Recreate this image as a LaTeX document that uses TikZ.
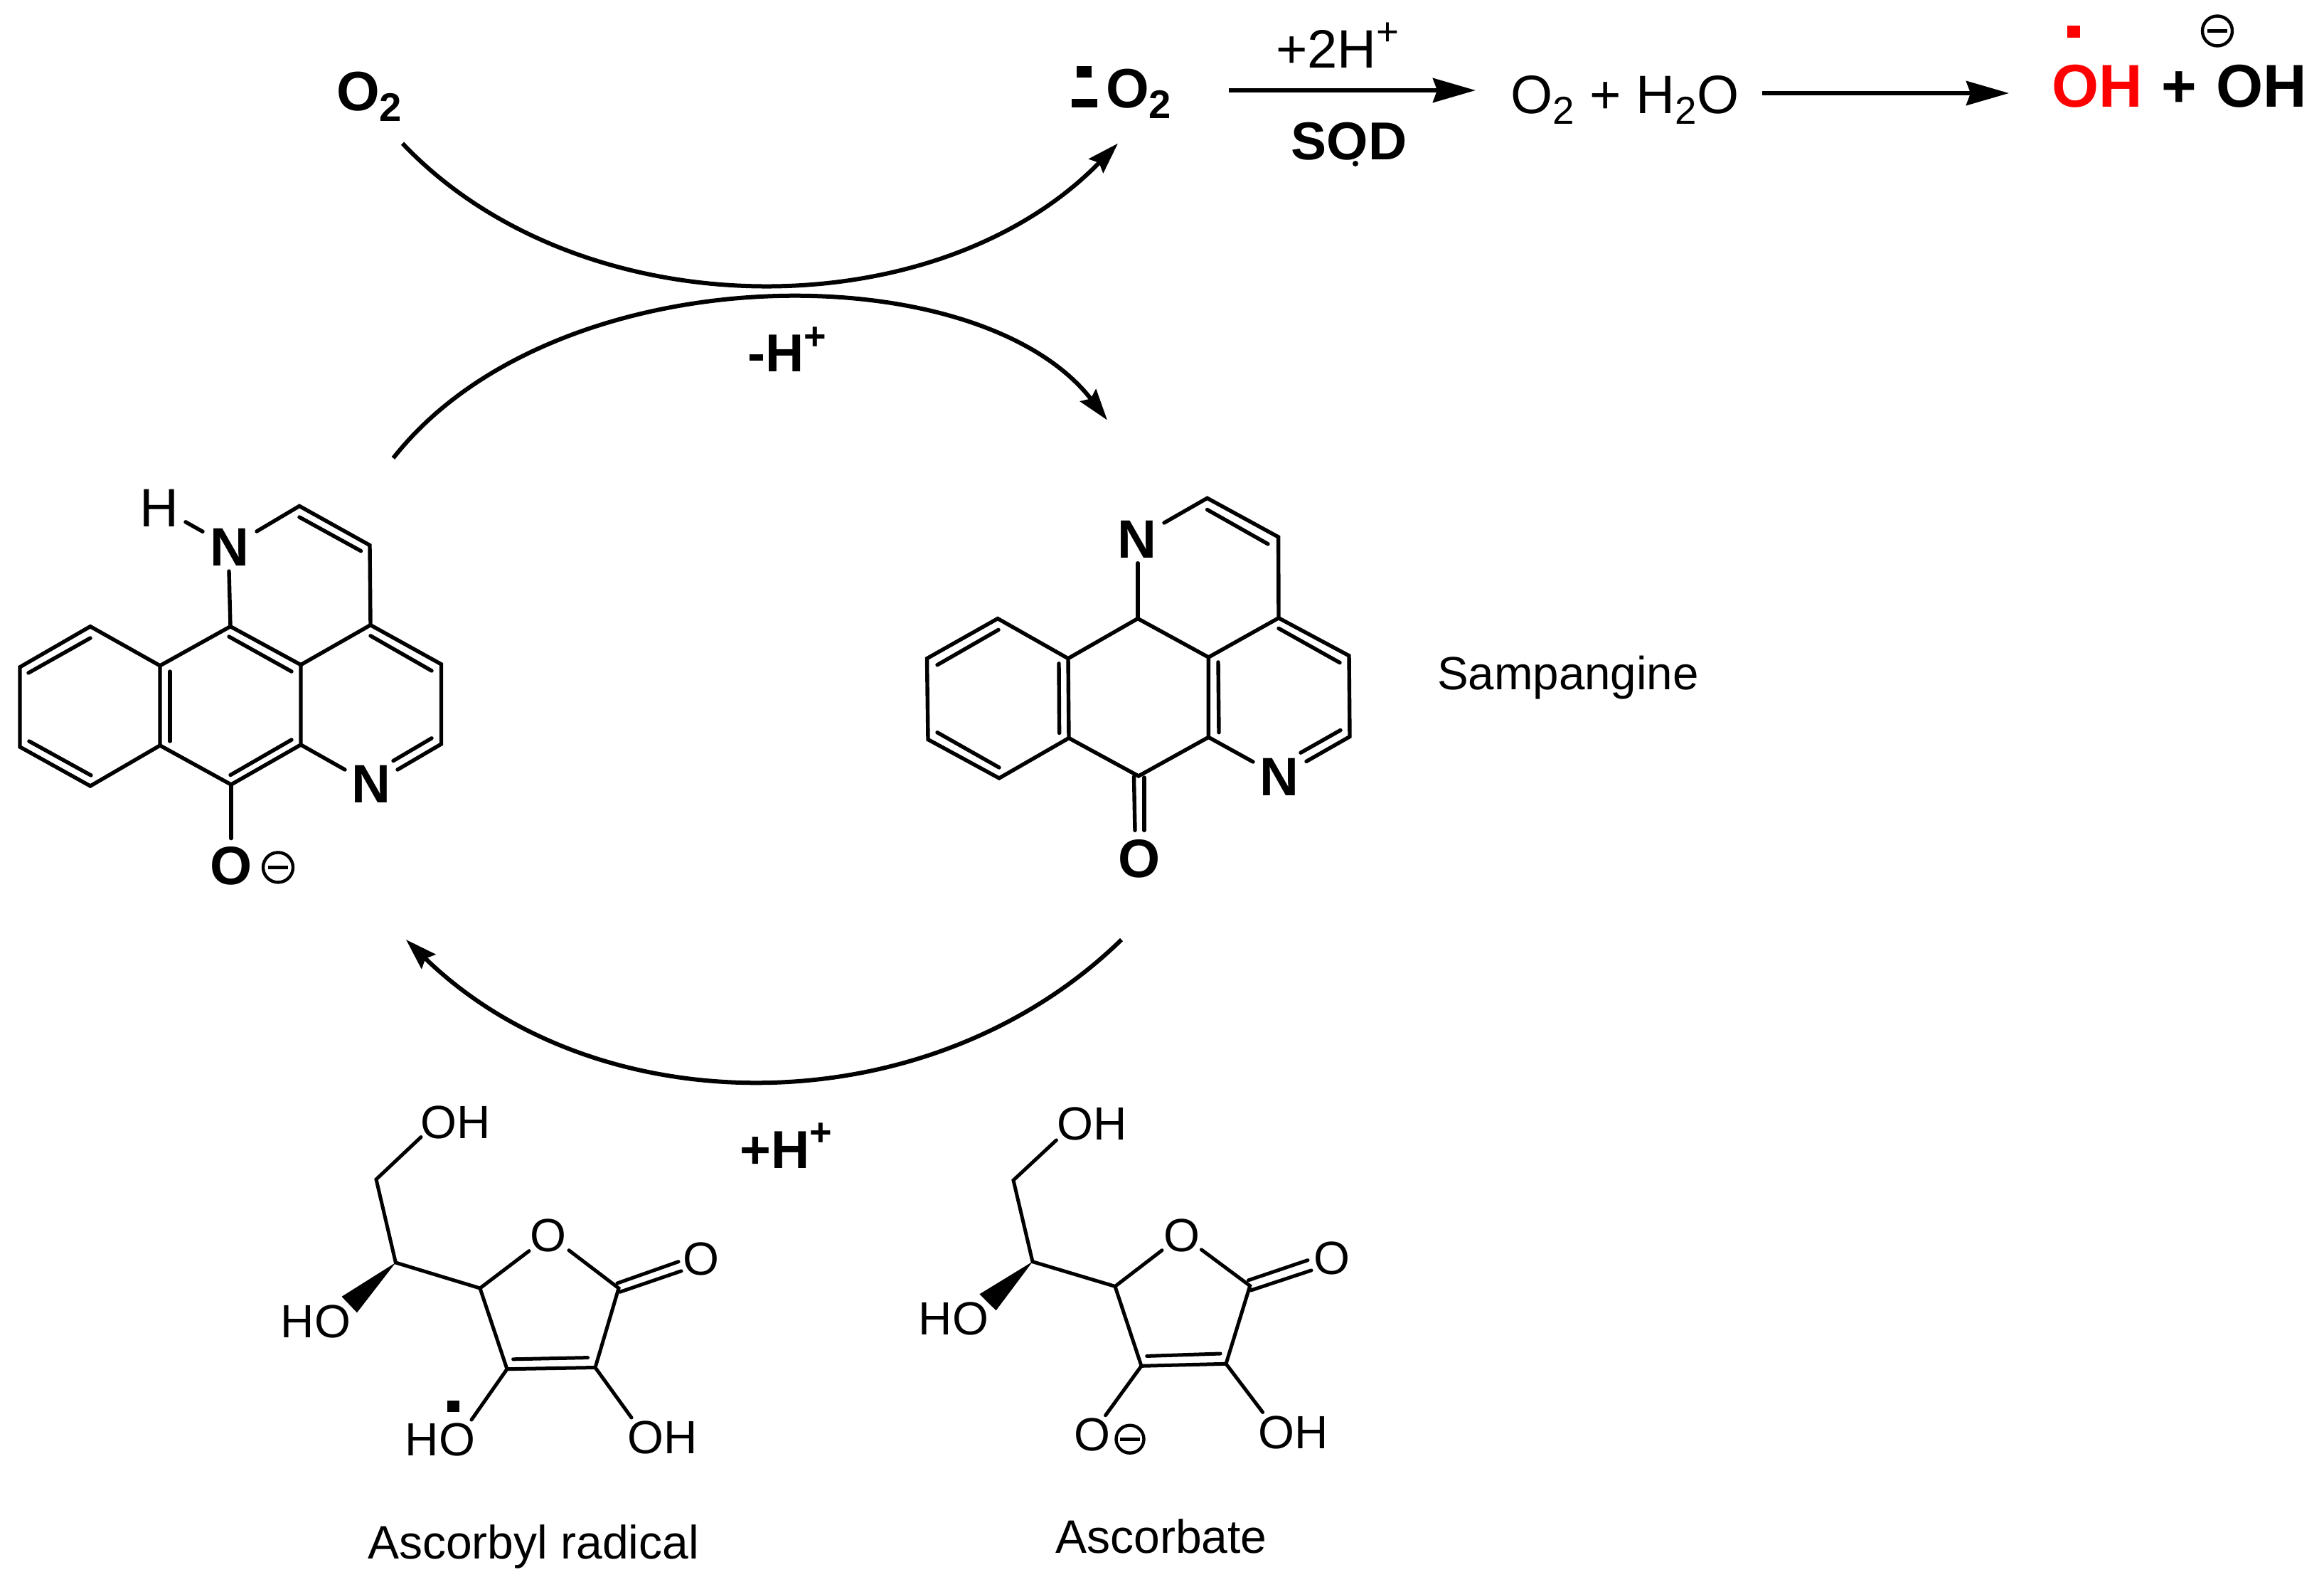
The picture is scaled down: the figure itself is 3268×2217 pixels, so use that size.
\documentclass[tikz,border=0pt]{standalone}
\usepackage{fontspec}
\setmainfont{Liberation Sans}
\usetikzlibrary{arrows.meta,calc}
\newcommand{\lsub}[1]{\raisebox{-.2em}{\scalebox{.72}{#1}}}
\newcommand{\lsup}[1]{\raisebox{.42em}{\scalebox{.72}{#1}}}
\tikzset{
  x=0.5pt,y=-0.5pt,
  bond/.style={line width=2.7pt,line cap=round,line join=miter,miter limit=4},
  thinbond/.style={line width=2.5pt,line cap=round,line join=miter,miter limit=4},
  curved/.style={line width=3pt,-{Stealth[length=22pt,width=14pt,inset=3pt]}},
  rxn/.style={line width=3pt,-{Stealth[length=30pt,width=17pt,inset=3pt]}},
  txt/.style={anchor=base,inner sep=0pt,outer sep=0pt},
  rgsm/.style={txt,font=\fontsize{32.75}{39}\selectfont},
  rgcap/.style={txt,font=\fontsize{33}{39}\selectfont},
  rgmd/.style={txt,font=\fontsize{38}{45}\selectfont},
  bfmd/.style={txt,font=\fontsize{37.5}{45}\selectfont\bfseries},
  bflg/.style={txt,font=\fontsize{39}{47}\selectfont\bfseries},
  rglab/.style={txt,font=\fontsize{38}{48}\selectfont},
  bflab/.style={txt,font=\fontsize{38}{48}\selectfont\bfseries},
  bfxl/.style={txt,font=\fontsize{42.5}{51}\selectfont\bfseries},
  minusc/.style={circle,draw,line width=2.2pt,inner sep=0pt,minimum size=#1,
    path picture={\fill ($(path picture bounding box.center)+(-14,-2.6)$) rectangle +(28,5.2);}},
  wedge/.style={fill=black,draw=none},
}
\begin{document}
\begin{tikzpicture}
\useasboundingbox (0,0) rectangle (3268,2217);
% ---------- top line
\node[bflg] (o2a) at (519,155) {O\lsub{2}};
\node[bflg] (o2b) at (1601,151) {O\lsub{2}};
\fill (1514,93) rectangle (1535,109);
\fill (1507,139) rectangle (1543,151);
\node[rgmd] (h2p) at (1881,95) {+2H\lsup{+}};
\node[bfmd] (sod) at (1897,224) {SOD};
\fill (1906,230) circle (4);
\node[rgmd] (prod) at (2285,159) {O\lsub{2} + H\lsub{2}O};
\node[bfxl,text=red] (ohr) at (2949.5,150) {OH};
\fill[red] (2907,36) rectangle (2925,53);
\node[bfxl] (plus) at (3064,150) {+};
\node[bfxl] (ohb) at (3180.5,150) {OH};
\node[minusc=21pt] (moh) at (3118,43.5) {};
\coordinate (r1s) at (1728,127); \coordinate (r1e) at (2075,127);
\coordinate (r2s) at (2478,131); \coordinate (r2e) at (2825,131);
\draw[rxn] (r1s) -- (r1e);
\draw[rxn] (r2s) -- (r2e);
% ---------- curved arrows
\coordinate (c1s) at (566,201.6); \coordinate (c1e) at (1572,201.6);
\coordinate (c2s) at (553,644); \coordinate (c2e) at (1557,590.6);
\coordinate (c3s) at (1577,1321); \coordinate (c3e) at (571,1321);
\draw[curved] (c1s) .. controls (816,465) and (1316,465) .. (c1e);
\draw[curved] (c2s) .. controls (780,355) and (1375,355) .. (c2e);
\draw[curved] (c3s) .. controls (1306,1585) and (842,1585) .. (c3e);
\node[bfmd] (mh) at (1107,522.6) {-H\lsup{+}};
\node[bfmd] (ph) at (1105,1642) {+H\lsup{+}};
% ---------- left molecule
\coordinate (la1) at (28,937.8); \coordinate (la2) at (127,880.7); \coordinate (la3) at (225,935.8);
\coordinate (la4) at (225,1048); \coordinate (la5) at (127,1105); \coordinate (la6) at (28,1050);
\coordinate (lb1) at (324,880.7); \coordinate (lb2) at (423,934.6); \coordinate (lb3) at (423,1047);
\coordinate (lb4) at (325,1103); \coordinate (lc2) at (421,711.4); \coordinate (lc3) at (520,766.5);
\coordinate (lc4) at (521,878.7); \coordinate (ld1) at (620.5,933.8); \coordinate (ld2) at (620.5,1046);
\coordinate (lnr) at (361,747); \coordinate (lnd) at (322,803); \coordinate (lnh) at (285,747.3);
\coordinate (lhn) at (261,733.8); \coordinate (lob) at (325,1178.6);
\coordinate (lnl) at (485,1082); \coordinate (lnq) at (559,1082);
\node[bflab] (ln1) at (322.5,795) {N};
\node[bflab] (ln2) at (522,1128.8) {N};
\node[bflab] (lo) at (325.5,1243) {O};
\node[rglab] (lh) at (224,740) {H};
\node[minusc=21pt] (lm) at (391,1219.4) {};
\draw[bond] (la1) -- (la2) -- (la3) -- (la4) -- (la5) -- (la6) -- cycle;
\draw[bond] (la3) -- (lb1) -- (lb2) -- (lb3) -- (lb4) -- (la4);
\draw[bond] (lb1) -- (lnd);
\draw[bond] (lnr) -- (lc2) -- (lc3) -- (lc4) -- (lb2);
\draw[bond] (lc4) -- (ld1) -- (ld2) -- (lnq);
\draw[bond] (lb3) -- (lnl);
\draw[bond] (lb4) -- (lob);
\draw[bond] (lhn) -- (lnh);
\draw[bond] (40,946) -- (127,897);
\draw[bond] (41,1042) -- (128,1090);
\draw[bond] (239,944) -- (239,1042);
\draw[bond] (322,895) -- (410,944);
\draw[bond] (324,1089.6) -- (410,1040);
\draw[bond] (421,727) -- (507.6,774.6);
\draw[bond] (521,893.8) -- (607,943);
\draw[bond] (607,1037.8) -- (553,1069.6);
% ---------- right molecule
\coordinate (ra1) at (1303.5,925.7); \coordinate (ra2) at (1403,869.6); \coordinate (ra3) at (1502,925.7);
\coordinate (ra4) at (1503,1037.6); \coordinate (ra5) at (1405,1094); \coordinate (ra6) at (1305,1039.6);
\coordinate (rb1) at (1600,869.6); \coordinate (rb2) at (1699.4,924); \coordinate (rb3) at (1699.4,1036.4);
\coordinate (rb4) at (1601,1091); \coordinate (rc2) at (1697.6,700.3); \coordinate (rc3) at (1797.6,754.9);
\coordinate (rc4) at (1798,868.8); \coordinate (rd1) at (1897,921.8); \coordinate (rd2) at (1898,1035.6);
\coordinate (rnr) at (1637,735); \coordinate (rnd) at (1600,791.7);
\coordinate (rnl) at (1762,1071); \coordinate (rnq) at (1837,1070.4);
\node[bflab] (rn1) at (1599,784.6) {N};
\node[bflab] (rn2) at (1799,1118.7) {N};
\node[bflab] (ro) at (1602,1233) {O};
\node[rgsm,anchor=base west] (samp) at (2021,969) {Sampangine};
\draw[bond] (ra1) -- (ra2) -- (ra3) -- (ra4) -- (ra5) -- (ra6) -- cycle;
\draw[bond] (ra3) -- (rb1) -- (rb2) -- (rb3) -- (rb4) -- (ra4);
\draw[bond] (rb1) -- (rnd);
\draw[bond] (rnr) -- (rc2) -- (rc3) -- (rc4) -- (rb2);
\draw[bond] (rc4) -- (rd1) -- (rd2) -- (rnq);
\draw[bond] (rb3) -- (rnl);
\draw[bond] (1318,934.8) -- (1404,885.4);
\draw[bond] (1318,1029.7) -- (1405,1079);
\draw[bond] (1489,932.8) -- (1489.6,1030.5);
\draw[bond] (1713,930.9) -- (1714,1029.7);
\draw[bond] (1697.6,716.5) -- (1783,764.8);
\draw[bond] (1798,883.4) -- (1884,931.6);
\draw[bond] (1885,1026.5) -- (1829,1058.2);
\draw[bond] (1594.5,1091.8) -- (1596,1167.3);
\draw[bond] (1609,1093) -- (1609,1167.3);
% ---------- ascorbyl radical
\coordinate (sa) at (592,1598.5); \coordinate (sb) at (529,1658); \coordinate (sc) at (556.4,1775);
\coordinate (sd) at (675,1811); \coordinate (se) at (744,1758.6); \coordinate (sf) at (800,1757.7);
\coordinate (sg) at (870,1811); \coordinate (sh) at (837,1922.5); \coordinate (si) at (713,1924.7);
\coordinate (sj) at (663,1996); \coordinate (sk) at (888,1993);
\node[rgsm] (soh1) at (641,1600.4) {OH};
\node[rgsm] (sho1) at (444,1880.4) {HO};
\node[rgsm] (sor) at (770.7,1759.9) {O};
\node[rgsm] (soc) at (986,1792.4) {O};
\node[rgsm] (sho2) at (619,2046) {HO};
\node[rgsm] (soh2) at (931.5,2043.6) {OH};
\node[rgcap] (scap) at (750,2191) {Ascorbyl radical};
\fill (629,1969) rectangle (646,1984.5);
\draw[thinbond] (sa) -- (sb) -- (sc) -- (sd) -- (se);
\draw[thinbond] (sf) -- (sg) -- (sh) -- (si) -- (sd);
\draw[thinbond] (si) -- (sj);
\draw[thinbond] (sh) -- (sk);
\draw[thinbond] (721.6,1910.8) -- (826.5,1908.6);
\draw[thinbond] (868,1804) -- (954,1773.7);
\draw[thinbond] (872,1816.2) -- (958,1786.8);
\fill[wedge] (sc) -- (480.5,1822.8) -- (502,1845.3) -- cycle;
% ---------- ascorbate
\coordinate (ta) at (1485.4,1602.9); \coordinate (tb) at (1425,1659.2); \coordinate (tc) at (1452,1773.7);
\coordinate (td) at (1568,1808.4); \coordinate (te) at (1634,1757.7); \coordinate (tf) at (1689.4,1756.8);
\coordinate (tg) at (1757.7,1807.6); \coordinate (th) at (1724,1917.3); \coordinate (ti) at (1605,1920.3);
\coordinate (tj) at (1554.6,1989.7); \coordinate (tk) at (1775.6,1985.4);
\node[rgsm] (toh1) at (1535.75,1602.6) {OH};
\node[rgsm] (tho1) at (1341,1876) {HO};
\node[rgsm] (tor) at (1662,1759.9) {O};
\node[rgsm] (toc) at (1873,1791) {O};
\node[rgsm] (tom) at (1536,2039.3) {O};
\node[minusc=19.5pt] (tm) at (1589,2023.2) {};
\node[rgsm] (toh2) at (1819,2036.3) {OH};
\node[rgcap] (tcap) at (1633,2183.7) {Ascorbate};
\draw[thinbond] (ta) -- (tb) -- (tc) -- (td) -- (te);
\draw[thinbond] (tf) -- (tg) -- (th) -- (ti) -- (td);
\draw[thinbond] (ti) -- (tj);
\draw[thinbond] (th) -- (tk);
\draw[thinbond] (1612.7,1906.4) -- (1716,1903);
\draw[thinbond] (1755.5,1799.8) -- (1839,1771.6);
\draw[thinbond] (1759,1814) -- (1844,1785.9);
\fill[wedge] (tc) -- (1377.4,1819.3) -- (1400.6,1842.3) -- cycle;
\end{tikzpicture}
\end{document}
